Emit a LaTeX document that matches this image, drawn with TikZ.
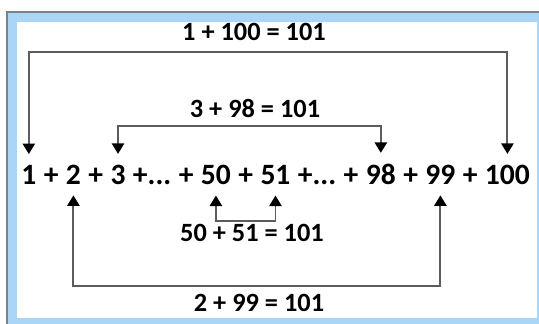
\documentclass[tikz,border=0pt]{standalone}
\usepackage{fontspec}
\setmainfont{Carlito}
\usetikzlibrary{arrows.meta,positioning}
\definecolor{frameblue}{HTML}{A9D5F7}
\definecolor{linegray}{HTML}{5C5C5C}
\newcommand{\plusdots}{+...}

\begin{document}
\begin{tikzpicture}[x=0.02cm, y=-0.02cm,
  term/.style={inner sep=0pt, anchor=base west, font=\fontsize{16.8}{18}\selectfont\bfseries},
  sumlabel/.style={inner sep=0pt, anchor=base, font=\fontsize{15}{16}\selectfont\bfseries},
  pairlink/.style={linegray, line width=1.1pt,
    {Triangle[width=7pt,length=6pt,color=black]}-{Triangle[width=7pt,length=6pt,color=black]}}]
  \useasboundingbox (0,0) rectangle (539,324);
  \clip (0,0) rectangle (539,324);
  % Frame
  \fill[frameblue] (7,12) rectangle (545,330);
  \fill[white] (17,22) rectangle (537,318);
  \draw[gray, line width=0.8pt] (7,330) |- (545,12);
  % The sum, one node per term
  \node[term] (t1) at (21,185) {1};
  \foreach \tok [count=\i from 2, remember=\i as \j (initially 1)] in
    {+,2,+,3,\plusdots,+,50,+,51,\plusdots,+,98,+,99,+,100}
    \node[term, xshift=3.85pt] (t\i) at (t\j.base east) {\tok};
  % Levels of the connectors
  \coordinate (top) at (0,52);
  \coordinate (mid) at (0,126);
  \coordinate (low) at (0,221);
  \coordinate (bot) at (0,286);
  % Pairs above
  \draw[pairlink] ([yshift=6.5pt]t1.north) -- (t1 |- top) -- (t17 |- top) -- ([yshift=6.5pt]t17.north);
  \draw[pairlink] ([yshift=6.5pt]t5.north) -- (t5 |- mid) -- (t13 |- mid) -- ([yshift=6.5pt]t13.north);
  % Pairs below
  \draw[pairlink] ([yshift=-5.7pt]t8.south) -- (t8 |- low) -- (t10 |- low) -- ([yshift=-5.7pt]t10.south);
  \draw[pairlink] ([yshift=-5.7pt]t3.south) -- (t3 |- bot) -- (t15 |- bot) -- ([yshift=-5.7pt]t15.south);
  % Sums
  \node[sumlabel] (s1) at (254,41) {1 + 100 = 101};
  \node[sumlabel] (s2) at (255,118) {3 + 98 = 101};
  \node[sumlabel] (s3) at (252,242) {50 + 51 = 101};
  \node[sumlabel] (s4) at (259,312) {2 + 99 = 101};
\end{tikzpicture}
\end{document}
